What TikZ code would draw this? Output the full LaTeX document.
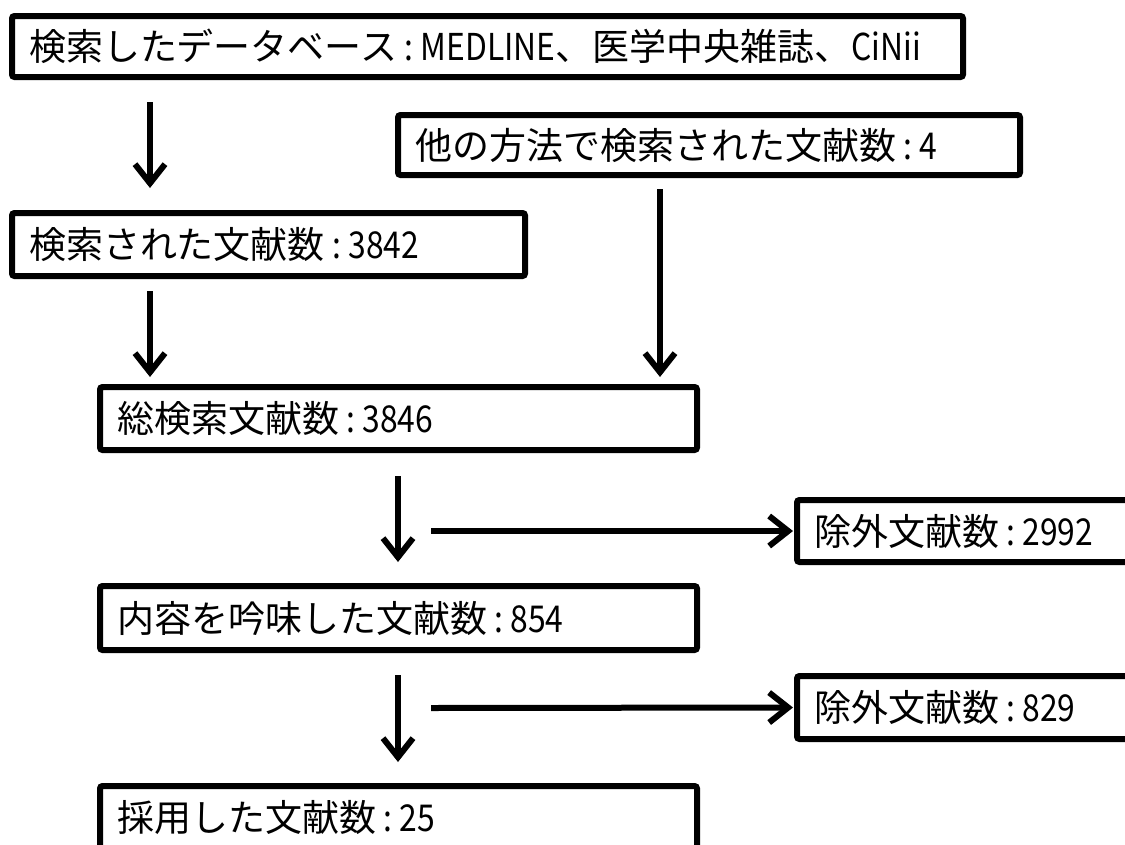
\documentclass[tikz,border=0pt]{standalone}
\usepackage{fontspec}
\setmainfont{Noto Sans CJK JP}
\newfontfamily\lat[FakeStretch=0.86]{Noto Sans CJK JP}
\usetikzlibrary{arrows.meta}
\newcommand\cln{{\lat\hspace{0.2em}:\hspace{0.2em}}}
\newcommand\lt[1]{{\lat #1}}
\tikzset{
  fbox/.style={draw, line width=6pt, rounded corners=2.5pt, anchor=west, outer sep=0pt,
    inner xsep=17pt, inner ysep=0pt, minimum height=63pt, align=left,
    font=\fontsize{37pt}{40pt}\selectfont},
  arr/.style={line width=6pt, -{Straight Barb[length=19pt, width=30pt]}}
}
\begin{document}
\begin{tikzpicture}[x=1pt, y=-1pt]
\useasboundingbox (0,0) rectangle (1125,844);
\clip (0,0) rectangle (1125,844);
% column coordinates
\coordinate (c1) at (150,0);
\coordinate (c2) at (660,0);
\coordinate (c3) at (398,0);
\coordinate (h1) at (431,531);
\coordinate (h2) at (431,708);
% boxes
\node[fbox, text width=917pt, minimum height=61pt] (B1) at (12,46.5) {\mbox{検索したデータベース\cln\lt{MEDLINE}、医学中央雑誌、\lt{CiNii}}};
\node[fbox, text width=588pt, minimum height=60pt] (B2) at (398,145) {\mbox{他の方法で検索された文献数\cln\lt{4}}};
\node[fbox, text width=479pt] (B3) at (12,244.5) {\mbox{検索された文献数\cln\lt{3842}}};
\node[fbox, text width=563pt] (B4) at (100,418.5) {\mbox{総検索文献数\cln\lt{3846}}};
\node[fbox, text width=306pt, minimum height=62pt] (B5) at (797,531) {\mbox{除外文献数\cln\lt{2992}}};
\node[fbox, text width=563pt, minimum height=64pt] (B6) at (100,618) {\mbox{内容を吟味した文献数\cln\lt{854}}};
\node[fbox, text width=306pt] (B7) at (797,707.5) {\mbox{除外文献数\cln\lt{829}}};
\node[fbox, text width=563pt] (B8) at (100,817.5) {\mbox{採用した文献数\cln\lt{25}}};
% connectors
\draw[arr, shorten <=25pt, shorten >=25pt] (B1.south -| c1) -- (B3.north -| c1);
\draw[arr, shorten <=14pt, shorten >=10pt] (B2.south -| c2) -- (B4.north -| c2);
\draw[arr, shorten <=15pt, shorten >=10pt] (B3.south -| c1) -- (B4.north -| c1);
\draw[arr, shorten <=26pt, shorten >=24pt] (B4.south -| c3) -- (B6.north -| c3);
\draw[arr, shorten >=4pt] (h1) -- (B5.west);
\draw[arr, shorten <=25pt, shorten >=24pt] (B6.south -| c3) -- (B8.north -| c3);
\draw[arr, shorten >=4pt] (h2) -- (B7.west);
\end{tikzpicture}
\end{document}
